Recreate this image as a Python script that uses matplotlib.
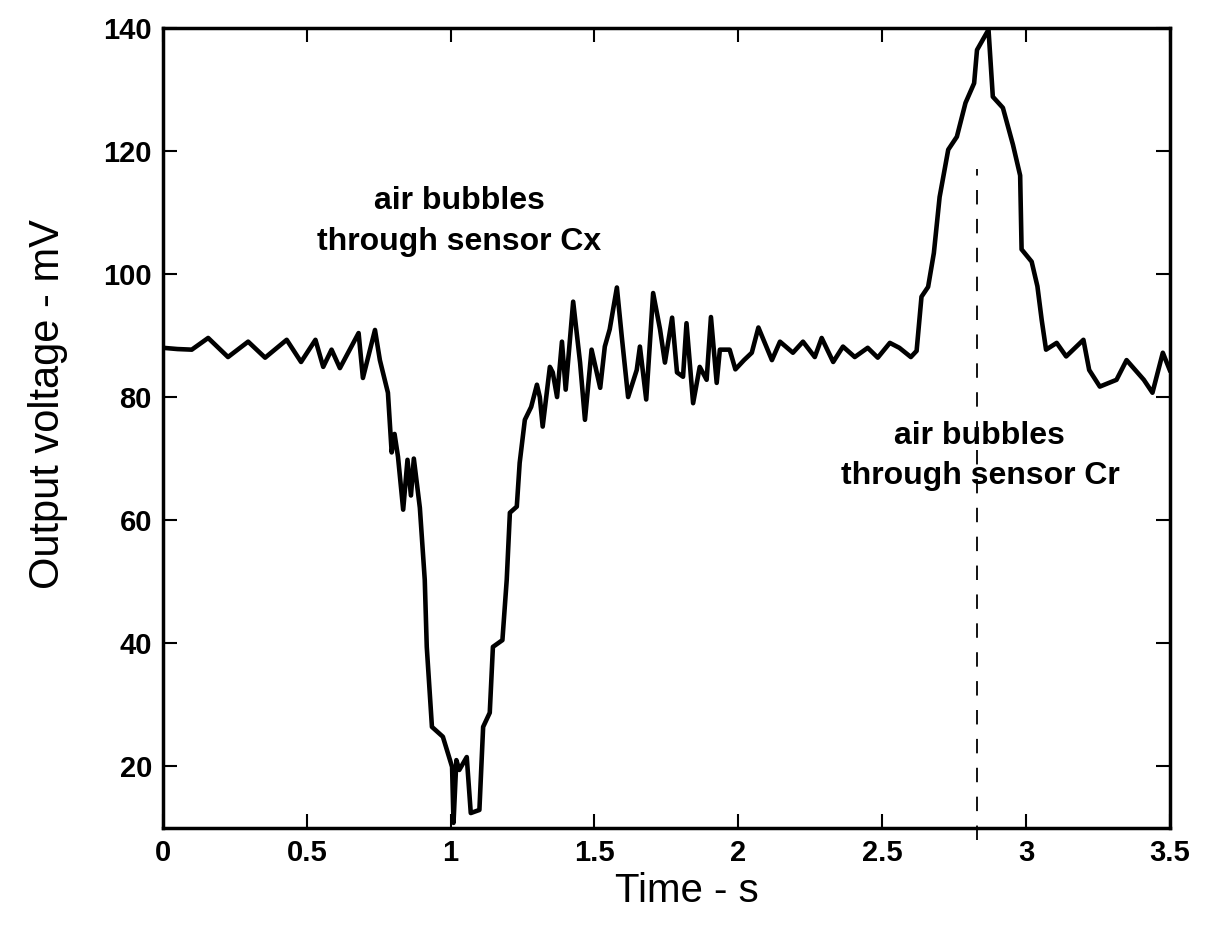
import numpy as np
import matplotlib
matplotlib.use("Agg")
import matplotlib.pyplot as plt

plt.rcParams['font.family'] = ['Liberation Sans', 'DejaVu Sans']

# trace (time in s, output in mV)
time_s = [0.00, 0.05, 0.10, 0.157, 0.226, 0.296, 0.355, 0.43, 0.48, 0.53,
          0.557, 0.586, 0.615, 0.68, 0.695, 0.737, 0.754, 0.782, 0.795, 0.805,
          0.817, 0.835, 0.85, 0.862, 0.872, 0.893, 0.91, 0.917, 0.935, 0.973,
          1.005, 1.01, 1.02, 1.03, 1.056, 1.07, 1.10, 1.113, 1.136, 1.147,
          1.18, 1.195, 1.206, 1.23, 1.24, 1.258, 1.28, 1.30, 1.31, 1.32,
          1.345, 1.355, 1.37, 1.387, 1.40, 1.426, 1.45, 1.467, 1.49, 1.52,
          1.536, 1.553, 1.578, 1.595, 1.617, 1.647, 1.658, 1.68, 1.704, 1.728,
          1.745, 1.77, 1.787, 1.808, 1.82, 1.843, 1.866, 1.89, 1.905, 1.925,
          1.936, 1.97, 1.99, 2.02, 2.047, 2.07, 2.117, 2.145, 2.19, 2.225,
          2.266, 2.29, 2.33, 2.364, 2.405, 2.45, 2.485, 2.527, 2.56, 2.60,
          2.62, 2.637, 2.66, 2.68, 2.70, 2.73, 2.76, 2.79, 2.82, 2.83,
          2.87, 2.885, 2.92, 2.955, 2.98, 2.985, 3.02, 3.04, 3.055, 3.07,
          3.107, 3.14, 3.20, 3.22, 3.257, 3.315, 3.35, 3.41, 3.44, 3.476,
          3.50]
voltage_mV = [88.0, 87.8, 87.7, 89.6, 86.5, 89.0, 86.4, 89.3, 85.7, 89.3,
              84.9, 87.7, 84.7, 90.4, 83.1, 90.9, 86.0, 80.7, 71.0, 74.0,
              70.3, 61.7, 69.8, 64.0, 70.0, 62.0, 50.3, 39.4, 26.4, 24.8,
              19.9, 10.8, 21.0, 19.4, 21.5, 12.4, 12.9, 26.4, 28.7, 39.4,
              40.5, 50.3, 61.2, 62.2, 69.3, 76.3, 78.4, 82.0, 80.0, 75.2,
              84.9, 84.0, 80.0, 89.0, 81.2, 95.5, 85.6, 76.3, 87.7, 81.5,
              88.2, 91.0, 97.8, 89.8, 80.0, 84.4, 88.2, 79.6, 96.9, 91.0,
              85.6, 92.9, 84.0, 83.3, 92.0, 79.0, 84.9, 82.8, 93.0, 82.3,
              87.7, 87.7, 84.5, 86.0, 87.2, 91.3, 86.0, 89.0, 87.2, 89.0,
              86.5, 89.6, 85.7, 88.2, 86.5, 88.0, 86.4, 88.8, 88.0, 86.5,
              87.5, 96.3, 97.9, 103.4, 112.5, 120.2, 122.3, 127.8, 131.0, 136.4,
              139.7, 128.8, 127.0, 121.0, 116.0, 104.0, 102.0, 98.0, 92.5, 87.7,
              88.8, 86.6, 89.3, 84.4, 81.7, 82.8, 86.0, 82.8, 80.7, 87.2,
              84.4]

x_ticks = [0, 0.5, 1, 1.5, 2, 2.5, 3, 3.5]
x_tick_labels = ['0', '0.5', '1', '1.5', '2', '2.5', '3', '3.5']
y_ticks = [20, 40, 60, 80, 100, 120, 140]
marker_time = 2.83

fig = plt.figure(figsize=(12.21, 9.27), dpi=100)
ax = fig.add_axes([0.1335, 0.107, 0.8245, 0.863])

ax.plot(time_s, voltage_mV, color='black', linewidth=3.3)
ax.plot([marker_time, marker_time], [8, 117], color='black', linewidth=1.3,
        linestyle=(0, (8, 8)), clip_on=False)

ax.set_xlim(0, 3.5)
ax.set_ylim(10, 140)
ax.set_xticks(x_ticks)
ax.set_xticklabels(x_tick_labels, fontsize=21, fontweight='bold')
ax.set_yticks(y_ticks)
ax.set_yticklabels([str(v) for v in y_ticks], fontsize=21, fontweight='bold')
ax.tick_params(direction='in', length=10, width=1.5, top=True, right=True, pad=8)
for s in ax.spines.values():
    s.set_linewidth(2.5)

ax.set_xlabel('Time - s', fontsize=29)
ax.xaxis.set_label_coords(0.52, -0.055)
ax.set_ylabel('Output voltage - mV', fontsize=30)
ax.yaxis.set_label_coords(-0.094, 0.53)

ax.text(1.03, 108.5, 'air bubbles\nthrough sensor Cx', ha='center', va='center',
        fontsize=23, fontweight='bold', linespacing=1.5)
ax.text(2.84, 70.4, 'air bubbles\nthrough sensor Cr', ha='center', va='center',
        fontsize=23, fontweight='bold', linespacing=1.45)

fig.savefig('out.png', dpi=100)
